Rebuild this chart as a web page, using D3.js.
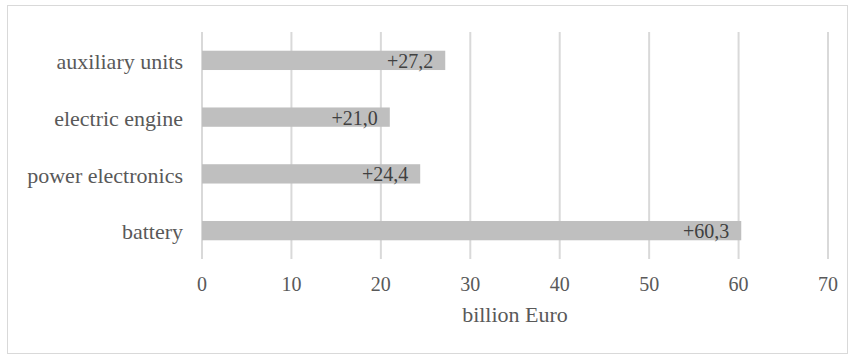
<!DOCTYPE html>
<html><head><meta charset="utf-8">
<script src="https://cdn.jsdelivr.net/npm/d3@7"></script>
<style>body{margin:0;background:#fff;} svg{display:block;}</style>
</head><body>
<svg id="c" width="853" height="356" font-family="Liberation Serif, Times New Roman, Tinos"></svg>
<script>
const categories = ["auxiliary units", "electric engine", "power electronics", "battery"];
const values = [27.2, 21.0, 24.4, 60.3];
const labels = ["+27,2", "+21,0", "+24,4", "+60,3"];
const ticks = [0, 10, 20, 30, 40, 50, 60, 70];
const axisTitle = "billion Euro";

const FONT = "Times New Roman";
const svg = d3.select("#c");
svg.append("rect").attr("x", 7.5).attr("y", 5.5).attr("width", 840).attr("height", 348)
  .attr("fill", "#fff").attr("stroke", "#d9d9d9").attr("stroke-width", 1);

const x = d3.scaleLinear().domain([0, 70]).range([202, 828]);
const y = d3.scaleBand().domain(categories).range([32, 259]).paddingInner(0.66).paddingOuter(0.33);

const g = svg.append("g");
g.selectAll("line.grid").data(ticks).join("line").attr("class", "grid")
  .attr("x1", d => x(d)).attr("x2", d => x(d)).attr("y1", 32).attr("y2", 259)
  .attr("stroke", "#d9d9d9").attr("stroke-width", 2);

g.selectAll("rect.bar").data(values).join("rect").attr("class", "bar")
  .attr("x", x(0)).attr("y", (d, i) => y(categories[i]))
  .attr("width", d => x(d) - x(0)).attr("height", y.bandwidth())
  .attr("fill", "#bfbfbf");

g.selectAll("text.val").data(values).join("text").attr("class", "val")
  .attr("x", d => x(d) - 12).attr("y", (d, i) => y(categories[i]) + y.bandwidth() / 2)
  .attr("dy", "0.38em").attr("text-anchor", "end")
  .attr("font-family", FONT).attr("font-size", 20).attr("fill", "#404040")
  .text((d, i) => labels[i]);

g.selectAll("text.cat").data(categories).join("text").attr("class", "cat")
  .attr("x", 183).attr("y", d => y(d) + y.bandwidth() / 2)
  .attr("dy", "0.4em").attr("text-anchor", "end")
  .attr("font-family", FONT).attr("font-size", 22).attr("fill", "#595959")
  .text(d => d);

g.selectAll("text.tick").data(ticks).join("text").attr("class", "tick")
  .attr("x", d => x(d)).attr("y", 284).attr("dy", "0.35em").attr("text-anchor", "middle")
  .attr("font-family", FONT).attr("font-size", 20).attr("fill", "#595959")
  .text(d => d);

svg.append("text").attr("x", x(35)).attr("y", 314).attr("dy", "0.35em").attr("text-anchor", "middle")
  .attr("font-family", FONT).attr("font-size", 22).attr("fill", "#595959").text(axisTitle);
</script>
</body></html>
